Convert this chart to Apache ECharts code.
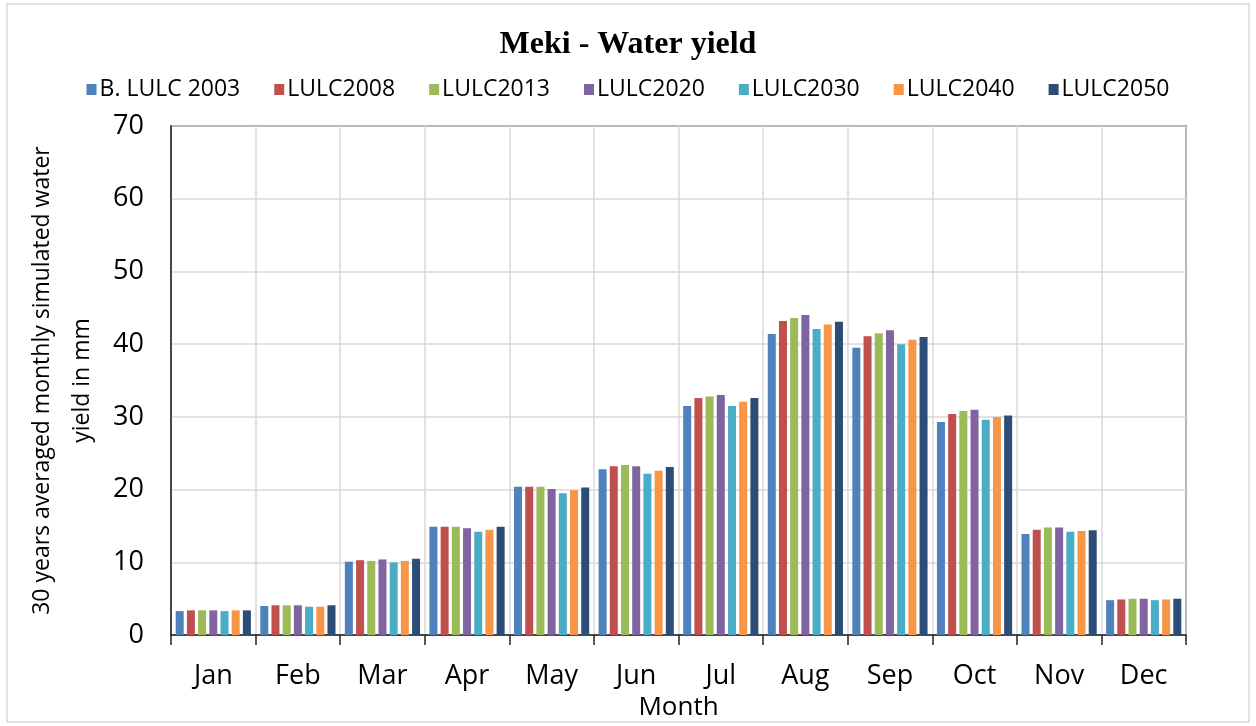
<!DOCTYPE html>
<html>
<head>
<meta charset="utf-8">
<script src="https://cdn.jsdelivr.net/npm/echarts@6/dist/echarts.min.js"></script>
<style>
    html, body { margin: 0; padding: 0; background: #ffffff; }
    #chart { width: 1256px; height: 726px; }
</style>
</head>
<body>
<div id="chart"></div>
<script>
// months on the x axis
const months = ['Jan', 'Feb', 'Mar', 'Apr', 'May', 'Jun', 'Jul', 'Aug', 'Sep', 'Oct', 'Nov', 'Dec'];

// one array per land use scenario (mm)
const lulc2003 = [3.3, 4.0, 10.1, 14.9, 20.4, 22.8, 31.5, 41.4, 39.5, 29.3, 13.9, 4.8];
const lulc2008 = [3.4, 4.1, 10.3, 14.9, 20.4, 23.2, 32.6, 43.2, 41.1, 30.4, 14.5, 4.9];
const lulc2013 = [3.4, 4.1, 10.2, 14.9, 20.4, 23.4, 32.8, 43.6, 41.5, 30.8, 14.8, 5.0];
const lulc2020 = [3.4, 4.1, 10.4, 14.7, 20.1, 23.2, 33.0, 44.0, 41.9, 31.0, 14.8, 5.0];
const lulc2030 = [3.3, 3.9, 10.0, 14.2, 19.5, 22.2, 31.5, 42.1, 40.0, 29.6, 14.2, 4.8];
const lulc2040 = [3.4, 3.9, 10.2, 14.5, 19.9, 22.6, 32.1, 42.7, 40.6, 30.0, 14.3, 4.9];
const lulc2050 = [3.4, 4.1, 10.5, 14.9, 20.3, 23.1, 32.6, 43.1, 41.0, 30.2, 14.4, 5.0];

const seriesNames = ['B. LULC 2003', 'LULC2008', 'LULC2013', 'LULC2020', 'LULC2030', 'LULC2040', 'LULC2050'];
const seriesData = [lulc2003, lulc2008, lulc2013, lulc2020, lulc2030, lulc2040, lulc2050];
const colors = ['#4F81BD', '#C0504D', '#9BBB59', '#8064A2', '#4BACC6', '#F79646', '#2C4D75'];

const chart = echarts.init(document.getElementById('chart'));

let option = {
    animation: false,
    color: colors,
    title: {
        text: 'Meki - Water yield',
        left: 'center',
        top: 24,
        textStyle: {
            fontFamily: 'Liberation Serif',
            fontWeight: 'bold',
            fontSize: 32,
            color: '#000000'
        }
    },
    legend: {
        data: seriesNames,
        top: 73,
        left: 'center',
        itemWidth: 10,
        itemHeight: 11,
        itemGap: 34,
        icon: 'rect',
        textStyle: {
            fontFamily: 'Open Sans',
            fontSize: 23,
            color: '#000000',
            padding: [0, 0, 0, -2]
        }
    },
    grid: {
        left: 171,
        right: 70,
        top: 126,
        bottom: 89,
        show: true,
        borderColor: '#222222',
        borderWidth: 1.5
    },
    xAxis: {
        type: 'category',
        data: months,
        name: 'Month',
        nameLocation: 'middle',
        nameGap: 58,
        nameTextStyle: {
            fontFamily: 'Open Sans',
            fontSize: 26,
            color: '#000000'
        },
        axisLine: { lineStyle: { color: '#222222', width: 1.5 } },
        axisTick: { show: true, length: 10, lineStyle: { color: '#222222', width: 1.5 } },
        axisLabel: {
            margin: 28,
            fontFamily: 'Open Sans',
            fontSize: 27,
            color: '#000000'
        },
        splitLine: { show: true, lineStyle: { color: '#d9d9d9', width: 1.5 } }
    },
    yAxis: {
        type: 'value',
        min: 0,
        max: 70,
        interval: 10,
        name: '30 years averaged monthly simulated water\nyield in mm',
        nameLocation: 'middle',
        nameGap: 57,
        nameRotate: 90,
        nameTextStyle: {
            fontFamily: 'Open Sans',
            fontSize: 23,
            lineHeight: 40,
            color: '#000000'
        },
        axisLine: { show: true, lineStyle: { color: '#222222', width: 1.5 } },
        axisTick: { show: false },
        axisLabel: {
            margin: 27,
            fontFamily: 'Open Sans',
            fontSize: 27,
            color: '#000000'
        },
        splitLine: { show: true, lineStyle: { color: '#d9d9d9', width: 1.5 } }
    },
    graphic: [
        {
            type: 'rect',
            shape: { x: 7, y: 4, width: 1242, height: 718 },
            style: { fill: 'none', stroke: '#d9d9d9', lineWidth: 1.5 },
            silent: true
        }
    ],
    series: seriesNames.map(function (name, i) {
        return {
            name: name,
            type: 'bar',
            data: seriesData[i],
            barWidth: 8,
            barGap: '40%'
        };
    })
};

chart.setOption(option);
</script>
</body>
</html>
